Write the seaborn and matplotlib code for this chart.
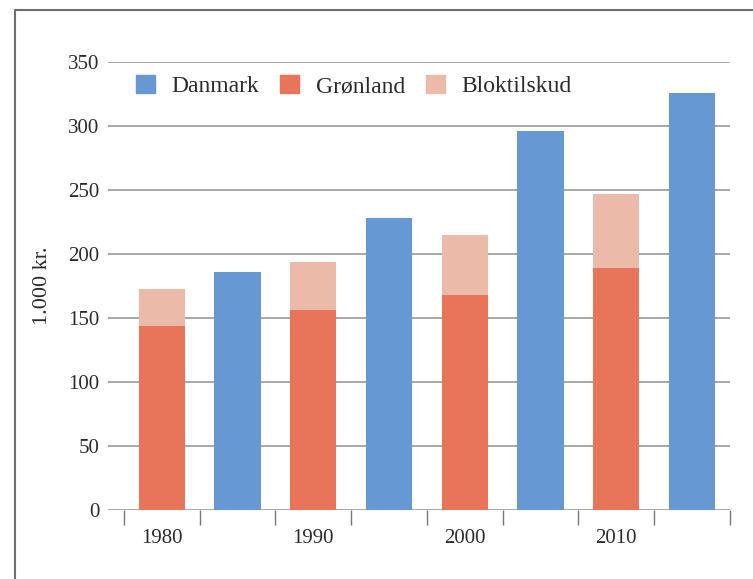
import pandas as pd
import matplotlib.pyplot as plt
import matplotlib.patches as mpatches
import seaborn as sns

# data
slots = ["1980", "1985", "1990", "1995", "2000", "2005", "2010", "2015"]
tick_labels = ["1980", "", "1990", "", "2000", "", "2010", ""]
groenland_slots = ["1980", "1990", "2000", "2010"]
danmark_slots = ["1985", "1995", "2005", "2015"]
groenland = [144, 156, 168, 189]
bloktilskud = [29, 38, 47, 58]
danmark = [186, 228, 296, 326]

c_dk = "#6699d4"
c_gl = "#e8745a"
c_bt = "#ebbaa8"
grid_c = "#a8a8a8"
text_c = "#2b2b2b"

sns.set_style("white")
plt.rcParams["font.family"] = ["Liberation Serif", "DejaVu Serif"]

df_gl = pd.DataFrame({"slot": groenland_slots, "Grønland": groenland,
                      "Bloktilskud": bloktilskud})
df_gl["total"] = df_gl["Grønland"] + df_gl["Bloktilskud"]
df_dk = pd.DataFrame({"slot": danmark_slots, "Danmark": danmark})

W, H = 753, 579
fig = plt.figure(figsize=(W / 100, H / 100), dpi=100)
ax = fig.add_axes([108 / W, (H - 510) / H, 622 / W, 448 / H])

bw = 0.61
bar_kw = dict(order=slots, width=bw, saturation=1, ax=ax, zorder=3,
              linewidth=0, edgecolor="none")
sns.barplot(data=df_gl, x="slot", y="total", color=c_bt, **bar_kw)
sns.barplot(data=df_gl, x="slot", y="Grønland", color=c_gl, **bar_kw)
sns.barplot(data=df_dk, x="slot", y="Danmark", color=c_dk, **bar_kw)

ax.set_ylim(0, 350)
ax.set_xlim(-0.71, 7.5)
ax.set_yticks(range(0, 351, 50))
ax.yaxis.grid(True, color=grid_c, linewidth=1.4, zorder=0)
ax.set_axisbelow(True)
for s in ax.spines.values():
    s.set_visible(False)

ax.set_xticks(range(len(slots)))
ax.set_xticklabels(tick_labels)
ax.set_xticks([i - 0.5 for i in range(len(slots) + 1)], minor=True)
ax.tick_params(axis="x", which="major", bottom=True, length=0, pad=14,
               labelsize=15, labelcolor=text_c)
ax.tick_params(axis="x", which="minor", bottom=True, length=11, width=1,
               color="#777777", direction="out")
ax.tick_params(axis="y", length=0, pad=6, labelsize=15, labelcolor=text_c)
ax.set_xlabel("")
ax.set_ylabel("1.000 kr.", fontsize=16, color=text_c, labelpad=12)

handles = [mpatches.Patch(color=c_dk, label="Danmark"),
           mpatches.Patch(color=c_gl, label="Grønland"),
           mpatches.Patch(color=c_bt, label="Bloktilskud")]
fig.legend(handles=handles, loc="upper left", ncol=3, frameon=False,
           bbox_to_anchor=(136 / W, 1 - 75 / H), borderpad=0,
           borderaxespad=0, fontsize=17, handlelength=0.8, handleheight=0.8,
           handletextpad=0.7, columnspacing=0.9, labelcolor=text_c)

# outer frame, cut off at the right and bottom like the reference
fig.add_artist(plt.Line2D([15 / W, 15 / W], [0, 1 - 10 / H], color="#6e6e6e",
                          linewidth=1.5, transform=fig.transFigure))
fig.add_artist(plt.Line2D([15 / W, 1], [1 - 10 / H, 1 - 10 / H], color="#6e6e6e",
                          linewidth=1.5, transform=fig.transFigure))

fig.savefig("out.png", dpi=100)
